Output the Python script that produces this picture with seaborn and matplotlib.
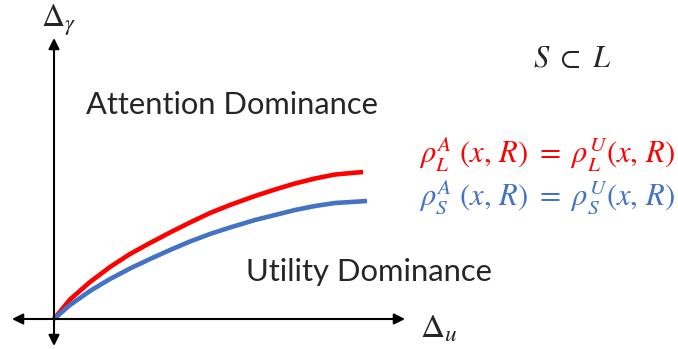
import matplotlib
matplotlib.use("Agg")
import matplotlib.pyplot as plt
import seaborn as sns
import pandas as pd

# Data (units: approx. 100 px of the original diagram)
red_x = [0.00, 0.16, 0.36, 0.56, 0.76, 0.96, 1.16, 1.36, 1.56, 1.76, 2.01, 2.21, 2.41, 2.61, 2.81, 3.09]
red_y = [0.000, 0.195, 0.370, 0.520, 0.650, 0.760, 0.865, 0.965, 1.060, 1.140, 1.230, 1.295, 1.355, 1.405, 1.445, 1.470]
blue_x = [0.00, 0.16, 0.36, 0.56, 0.76, 0.96, 1.16, 1.36, 1.56, 1.76, 2.01, 2.21, 2.41, 2.61, 2.81, 3.13]
blue_y = [0.000, 0.140, 0.280, 0.400, 0.505, 0.600, 0.690, 0.775, 0.850, 0.915, 0.990, 1.040, 1.090, 1.130, 1.160, 1.180]
series_names = ["L", "S"]
series_colors = {"L": "#FF0000", "S": "#4472C4"}

df = pd.concat([
    pd.DataFrame({"du": red_x, "dg": red_y, "set": series_names[0]}),
    pd.DataFrame({"du": blue_x, "dg": blue_y, "set": series_names[1]}),
])

sns.set_theme(style="white")
plt.rcParams["mathtext.fontset"] = "stix"
plt.rcParams["font.family"] = ["Lato", "DejaVu Sans"]

fig = plt.figure(figsize=(6.78, 3.49), dpi=100)
ax = fig.add_axes([0, 0, 1, 1])
ax.set_xlim(-0.54, 6.24)
ax.set_ylim(-0.30, 3.19)
ax.axis("off")

# Axes arrows
arrow_kw = dict(arrowstyle="-|>", color="black", lw=1.5, mutation_scale=16,
                shrinkA=0, shrinkB=0)
ax.annotate("", xy=(3.51, 0), xytext=(0, 0), arrowprops=arrow_kw)
ax.annotate("", xy=(-0.42, 0), xytext=(0, 0), arrowprops=arrow_kw)
ax.annotate("", xy=(0, 2.81), xytext=(0, 0), arrowprops=arrow_kw)
ax.annotate("", xy=(0, -0.27), xytext=(0, 0), arrowprops=arrow_kw)

# Curves
sns.lineplot(data=df, x="du", y="dg", hue="set", palette=series_colors,
             linewidth=3.3, legend=False, ax=ax, sort=False,
             solid_capstyle="butt", solid_joinstyle="round")

# Labels
ax.text(0.05, 2.99, r"$\Delta_\gamma$", fontsize=23, ha="center", va="center")
ax.text(3.85, -0.10, r"$\Delta_u$", fontsize=24, ha="center", va="center")
ax.text(0.32, 2.14, "Attention Dominance", fontsize=22.2, ha="left", va="center")
ax.text(1.92, 0.47, "Utility Dominance", fontsize=22.3, ha="left", va="center")
ax.text(5.18, 2.61, r"$S\ \subset\ L$", fontsize=22, ha="center", va="center")
ax.text(3.65, 1.64, r"$\rho_L^A\ (x,\,R)\ =\ \rho_L^U(x,\,R)$", fontsize=22,
        ha="left", va="center", color="#FF0000")
ax.text(3.65, 1.22, r"$\rho_S^A\ (x,\,R)\ =\ \rho_S^U(x,\,R)$", fontsize=22,
        ha="left", va="center", color="#4472C4")

fig.savefig("out.png", dpi=100)
